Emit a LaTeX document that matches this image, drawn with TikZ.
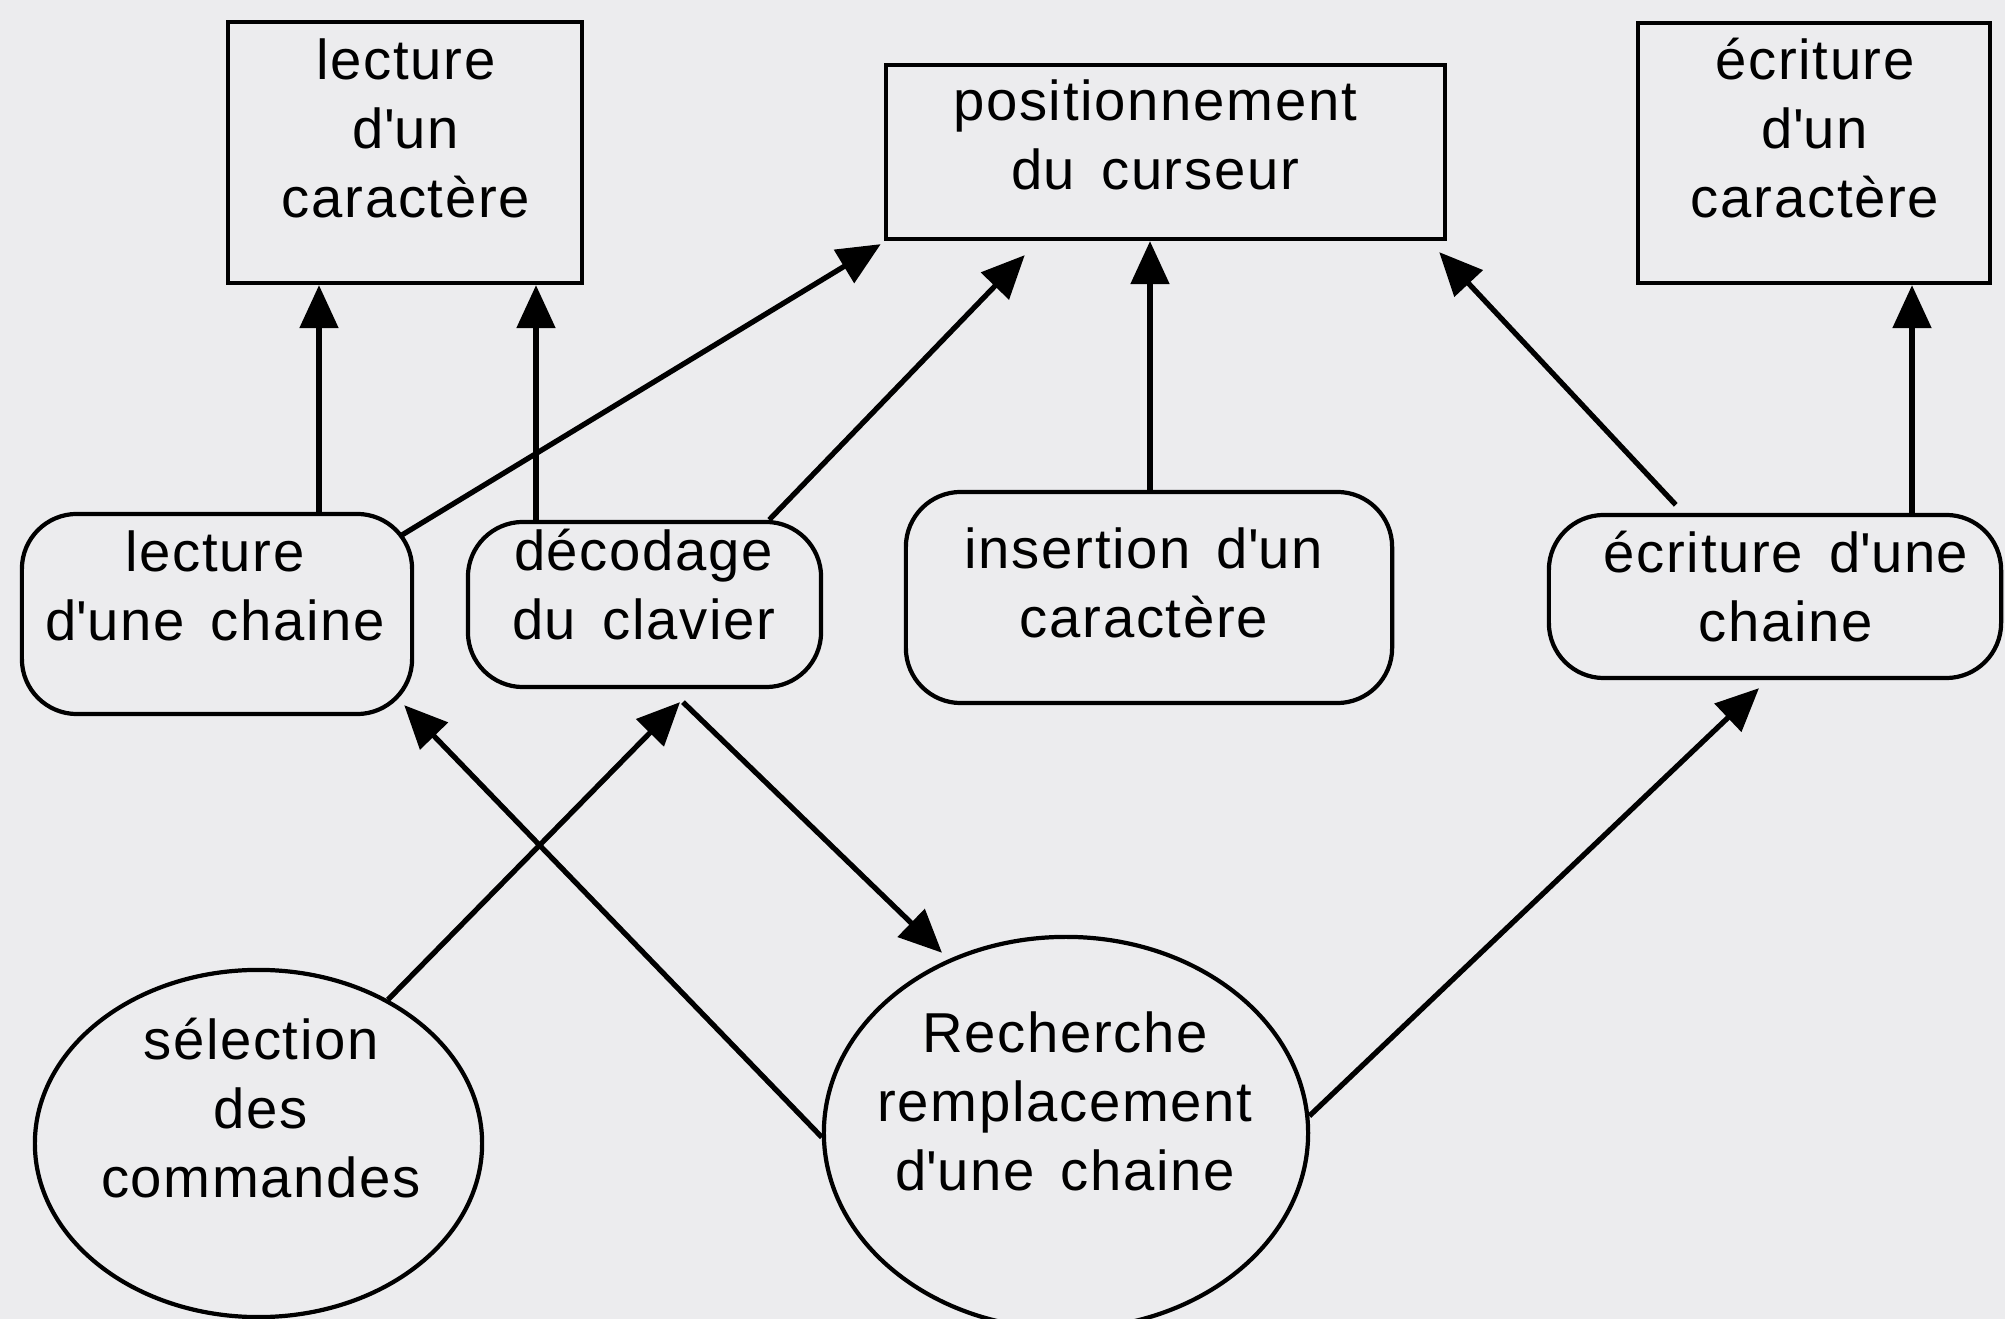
\documentclass[tikz,border=0pt]{standalone}
\usepackage{fontspec}
\setmainfont{Liberation Sans}[LetterSpace=3,WordSpace=1.5]
\usetikzlibrary{arrows.meta,shapes.geometric}
\definecolor{paper}{RGB}{236,236,238}
\newcommand{\ap}{\textquotesingle}
\begin{document}
\begin{tikzpicture}[x=0.01cm,y=-0.01cm,
  sqbox/.style={draw, rectangle, line width=1.2pt, inner sep=0pt},
  rbox/.style={draw, rectangle, rounded corners=0.55cm, line width=1.2pt, inner sep=0pt},
  oval/.style={draw, ellipse, line width=1.2pt, inner sep=0pt},
  txt/.style={align=center, inner sep=0pt, font=\fontsize{16}{19.6}\selectfont},
  arr/.style={line width=1.5pt, -{Triangle[length=0.43cm,width=0.38cm]}}]
\fill[paper] (0,0) rectangle (2005,1319);
\useasboundingbox (0,0) rectangle (2005,1319);
% top boxes
\node[sqbox, minimum width=3.54cm, minimum height=2.61cm] (LC) at (405,152.5) {};
\node[txt] (LCt) at (406,128) {lecture\\d\ap un\\caractère};
\node[sqbox, minimum width=5.59cm, minimum height=1.74cm] (PC) at (1165.5,152) {};
\node[txt] (PCt) at (1155,135) {positionnement\\du curseur};
\node[sqbox, minimum width=3.52cm, minimum height=2.60cm] (EC) at (1814,153) {};
\node[txt] (ECt) at (1815,128) {écriture\\d\ap un\\caractère};
% middle rounded boxes
\node[rbox, minimum width=3.90cm, minimum height=2.00cm] (LCh) at (217,614) {};
\node[txt] (LCht) at (215,586) {lecture\\d\ap une chaine};
\node[rbox, minimum width=3.53cm, minimum height=1.65cm] (DC) at (644.5,604.5) {};
\node[txt] (DCt) at (643.5,584.5) {décodage\\du clavier};
\node[rbox, minimum width=4.86cm, minimum height=2.11cm] (IN) at (1149,597.5) {};
\node[txt] (INt) at (1144,583) {insertion d\ap un\\caractère};
\node[rbox, minimum width=4.52cm, minimum height=1.63cm] (ECh) at (1775,596.5) {};
\node[txt] (EChT) at (1786,587) {écriture d\ap une\\chaine};
% ellipses
\node[oval, minimum width=4.47cm, minimum height=3.47cm] (SE) at (258.5,1143.5) {};
\node[txt] (SEt) at (261,1108) {sélection\\des\\commandes};
\node[oval, minimum width=4.84cm, minimum height=3.92cm] (RR) at (1066,1133) {};
\node[txt] (RRt) at (1065,1101) {Recherche\\remplacement\\d\ap une chaine};
% vertical arrows
\draw[arr] ([shift={(102,0)}]LCh.north) -- ([shift={(-86,0)}]LC.south);
\draw[arr] ([shift={(-108.5,0)}]DC.north) -- ([shift={(131,0)}]LC.south);
\draw[arr] ([shift={(1,0)}]IN.north) -- ([shift={(-15.5,0)}]PC.south);
\draw[arr] ([shift={(137,0)}]ECh.north) -- ([shift={(98,0)}]EC.south);
% diagonal arrows to the cursor box
\draw[arr] ([shift={(-12,23)}]LCh.north east) -- ([shift={(-3,3)}]PC.south west);
\draw[arr] ([shift={(-54,0)}]DC.north east) -- ([shift={(141,14)}]PC.south west);
\draw[arr] ([shift={(129,-8)}]ECh.north west) -- ([shift={(-8,11)}]PC.south east);
% lower arrows
\draw[arr] (SE.48) -- ([shift={(35.5,13)}]DC.south);
\draw[arr] (RR.181) -- ([shift={(-10,-11)}]LCh.south east);
\draw[arr] ([shift={(38.5,13)}]DC.south) -- ([shift={(-124,18)}]RR.north);
\draw[arr] (RR.4) -- ([shift={(-16,8)}]ECh.south);
\end{tikzpicture}
\end{document}
